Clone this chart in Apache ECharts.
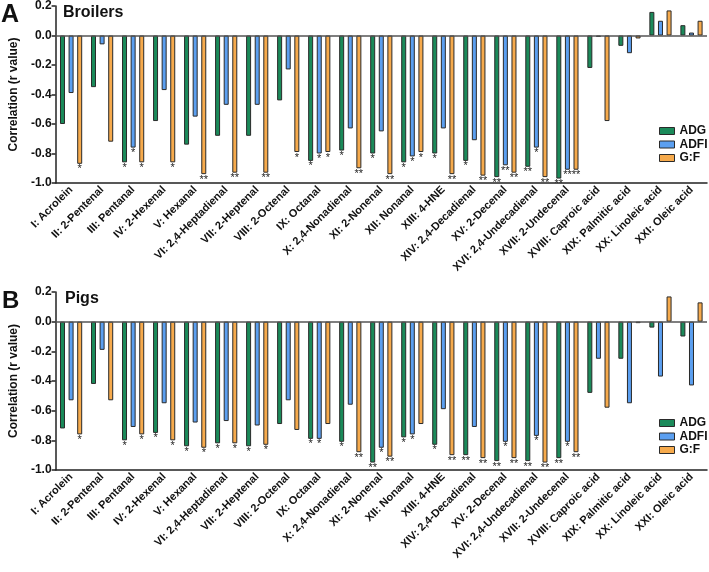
<!DOCTYPE html>
<html>
<head>
<meta charset="utf-8">
<script src="https://cdn.jsdelivr.net/npm/echarts@6/dist/echarts.min.js"></script>
<style>
  html, body { margin: 0; padding: 0; background: #fff; }
  #chart { width: 709px; height: 572px; }
</style>
</head>
<body>
<div id="chart"></div>
<script>
// 21 aldehydes / fatty acids
const categories = ['I: Acrolein', 'II: 2-Pentenal', 'III: Pentanal', 'IV: 2-Hexenal', 'V: Hexanal',
  'VI: 2,4-Heptadienal', 'VII: 2-Heptenal', 'VIII: 2-Octenal', 'IX: Octanal', 'X: 2,4-Nonadienal',
  'XI: 2-Nonenal', 'XII: Nonanal', 'XIII: 4-HNE', 'XIV: 2,4-Decadienal', 'XV: 2-Decenal',
  'XVI: 2,4-Undecadienal', 'XVII: 2-Undecenal', 'XVIII: Caproic acid', 'XIX: Palmitic acid',
  'XX: Linoleic acid', 'XXI: Oleic acid'];
const seriesNames = ['ADG', 'ADFI', 'G:F'];
const yTicks = [-1.0, 0.2, 0.2]; // min, max, interval

// A: Broilers
const broilerADG = [-0.60, -0.35, -0.86, -0.58, -0.74, -0.68, -0.68, -0.44, -0.85, -0.78, -0.80, -0.86, -0.80, -0.85, -0.96, -0.89, -0.97, -0.22, -0.07, 0.16, 0.07];
const broilerADFI = [-0.39, -0.06, -0.76, -0.37, -0.55, -0.47, -0.47, -0.23, -0.80, -0.63, -0.65, -0.82, -0.63, -0.71, -0.88, -0.76, -0.91, -0.01, -0.12, 0.10, 0.02];
const broilerGF = [-0.87, -0.72, -0.86, -0.86, -0.94, -0.93, -0.93, -0.79, -0.79, -0.90, -0.94, -0.79, -0.94, -0.95, -0.93, -0.96, -0.91, -0.58, -0.02, 0.17, 0.10];
const broilerADGSig = ['', '', '*', '', '', '', '', '', '*', '*', '*', '*', '*', '*', '**', '**', '**', '', '', '', ''];
const broilerADFISig = ['', '', '*', '', '', '', '', '', '*', '', '', '*', '', '', '**', '*', '**', '', '', '', ''];
const broilerGFSig = ['*', '', '*', '*', '**', '**', '**', '*', '*', '**', '**', '*', '**', '**', '**', '**', '**', '', '', '', ''];

// B: Pigs
const pigADG = [-0.72, -0.42, -0.80, -0.75, -0.84, -0.82, -0.84, -0.69, -0.79, -0.81, -0.95, -0.78, -0.83, -0.90, -0.94, -0.94, -0.92, -0.48, -0.25, -0.04, -0.10];
const pigADFI = [-0.53, -0.19, -0.71, -0.55, -0.68, -0.67, -0.70, -0.53, -0.79, -0.56, -0.85, -0.76, -0.59, -0.71, -0.81, -0.77, -0.81, -0.25, -0.55, -0.37, -0.43];
const pigGF = [-0.76, -0.53, -0.76, -0.80, -0.85, -0.82, -0.83, -0.73, -0.69, -0.88, -0.91, -0.69, -0.90, -0.92, -0.92, -0.95, -0.88, -0.58, -0.01, 0.17, 0.13];
const pigADGSig = ['', '', '*', '*', '*', '*', '*', '', '*', '*', '**', '*', '*', '**', '**', '**', '**', '', '', '', ''];
const pigADFISig = ['', '', '', '', '', '', '', '', '*', '', '*', '*', '', '', '*', '*', '*', '', '', '', ''];
const pigGFSig = ['*', '', '*', '*', '*', '*', '*', '', '', '**', '**', '', '**', '**', '**', '**', '**', '', '', '', ''];

const colors = ['#1b8a5a', '#5b9ff0', '#f6aa4c'];
const font = 'Liberation Sans, Arial, sans-serif';

let chartDom = document.getElementById('chart');
let myChart = echarts.init(chartDom);
let option;

function makeX(idx) {
  return {
    type: 'category',
    gridIndex: idx,
    data: categories,
    axisLine: { onZero: false, lineStyle: { color: '#222', width: 1.5 } },
    axisTick: { alignWithLabel: true, length: 6, lineStyle: { color: '#222', width: 1.5 } },
    axisLabel: { rotate: 45, interval: 0, margin: 5, fontFamily: font, fontWeight: 'bold', fontSize: 11, color: '#111' }
  };
}

function makeY(idx) {
  return {
    type: 'value',
    gridIndex: idx,
    min: yTicks[0],
    max: yTicks[1],
    interval: yTicks[2],
    name: 'Correlation (r value)',
    nameLocation: 'middle',
    nameGap: 27,
    nameTextStyle: { fontFamily: font, fontWeight: 'bold', fontSize: 12, color: '#111' },
    axisLine: { show: true, lineStyle: { color: '#222', width: 1.5 } },
    axisTick: { show: true, length: 4, lineStyle: { color: '#222', width: 1.5 } },
    axisLabel: {
      margin: 4, fontFamily: font, fontWeight: 'bold', fontSize: 12, color: '#111',
      formatter: v => (Math.abs(v) < 1e-9 ? 0 : v).toFixed(1)
    },
    splitLine: { show: false }
  };
}

function makeBar(name, idx, values, sig, color, withZero) {
  let s = {
    name: name,
    type: 'bar',
    xAxisIndex: idx,
    yAxisIndex: idx,
    data: values,
    barWidth: 5,
    barGap: '72%',
    itemStyle: { color: color, borderColor: '#2a2a2a', borderWidth: 1 },
    label: {
      show: true,
      position: 'outside',
      distance: 0,
      fontSize: 11,
      color: '#222',
      fontFamily: font,
      formatter: p => sig[p.dataIndex]
    }
  };
  if (withZero) {
    // horizontal line at r = 0
    s.markLine = {
      silent: true,
      symbol: 'none',
      label: { show: false },
      lineStyle: { color: '#555', width: 1.5, type: 'solid' },
      data: [{ yAxis: 0 }]
    };
  }
  return s;
}

function makeLegend(top) {
  return {
    data: seriesNames,
    orient: 'vertical',
    left: 654,
    top: top,
    icon: 'rect',
    itemWidth: 15,
    itemHeight: 7,
    itemGap: 1.5,
    itemStyle: { borderColor: '#2a2a2a', borderWidth: 1 },
    textStyle: { fontFamily: font, fontWeight: 'bold', fontSize: 12, color: '#111' }
  };
}

option = {
  animation: false,
  color: colors,
  title: [
    { text: 'A', left: 1, top: 3, padding: 0, textStyle: { fontFamily: font, fontWeight: 'bold', fontSize: 25, color: '#111' } },
    { text: 'Broilers', left: 63, top: 5, padding: 0, textStyle: { fontFamily: font, fontWeight: 'bold', fontSize: 16, color: '#111' } },
    { text: 'B', left: 2, top: 289, padding: 0, textStyle: { fontFamily: font, fontWeight: 'bold', fontSize: 24, color: '#111' } },
    { text: 'Pigs', left: 65, top: 291, padding: 0, textStyle: { fontFamily: font, fontWeight: 'bold', fontSize: 16, color: '#111' } }
  ],
  legend: [makeLegend(120), makeLegend(412)],
  grid: [
    { left: 53, top: 5, width: 654, height: 178 },
    { left: 53, top: 292, width: 654, height: 178 }
  ],
  xAxis: [makeX(0), makeX(1)],
  yAxis: [makeY(0), makeY(1)],
  series: [
    makeBar('ADG', 0, broilerADG, broilerADGSig, colors[0], true),
    makeBar('ADFI', 0, broilerADFI, broilerADFISig, colors[1], false),
    makeBar('G:F', 0, broilerGF, broilerGFSig, colors[2], false),
    makeBar('ADG', 1, pigADG, pigADGSig, colors[0], true),
    makeBar('ADFI', 1, pigADFI, pigADFISig, colors[1], false),
    makeBar('G:F', 1, pigGF, pigGFSig, colors[2], false)
  ]
};

option && myChart.setOption(option);
</script>
</body>
</html>
